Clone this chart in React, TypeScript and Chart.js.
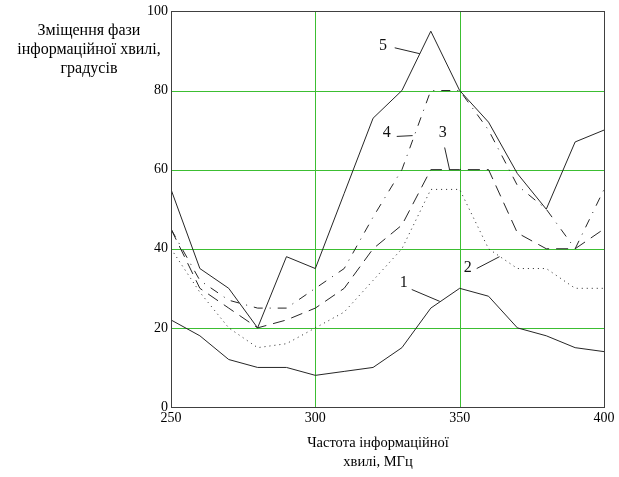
import React, { useEffect, useRef } from "react";
import { Chart, registerables } from "chart.js";

Chart.register(...registerables);

// Frequency of the information wave, MHz
const frequencies = [250, 260, 270, 280, 290, 300, 310, 320, 330, 340, 350, 360, 370, 380, 390, 400];

// Phase shift of the information wave, degrees (curves 1..5)
const curve1 = [22, 18, 12, 10, 10, 8, 9, 10, 15, 25, 30, 28, 20, 18, 15, 14];
const curve2 = [40, 29, 20, 15, 16, 20, 24, 32, 40, 55, 55, 40, 35, 35, 30, 30];
const curve3 = [45, 30, 25, 20, 22, 25, 30, 40, 46, 60, 60, 60, 44, 40, 40, 45];
const curve4 = [45, 32, 27, 25, 25, 30, 35, 48, 60, 80, 80, 70, 56, 50, 40, 55];
const curve5 = [55, 35, 30, 20, 38, 35, 54, 73, 80, 95, 80, 72, 59, 50, 67, 70];

const xTicks = [250, 300, 350, 400];
const yTicks = [0, 20, 40, 60, 80, 100];
// inner grid lines
const xGrid = [300, 350];
const yGrid = [20, 40, 60, 80];

const yTitleLines = ["Зміщення фази", "інформаційної хвилі,", "градусів"];
const xTitleLines = ["Частота інформаційної", "хвилі, МГц"];

// Curve number callouts: text position and leader line, in data units
const curveLabels = [
  { text: "1", at: [330.6, 31.5], from: [333.4, 29.7], to: [343.1, 26.7] },
  { text: "2", at: [352.8, 35.3], from: [355.9, 35.0], to: [363.8, 38.0] },
  { text: "3", at: [344.1, 69.3], from: [344.8, 65.6], to: [346.5, 60.0] },
  { text: "4", at: [324.7, 69.3], from: [328.2, 68.4], to: [333.7, 68.6] },
  { text: "5", at: [323.4, 91.3], from: [327.5, 90.8], to: [336.2, 89.3] },
];

const SERIF = "'Liberation Serif', 'Times New Roman', serif";
const GRID_GREEN = "rgb(60, 190, 50)";
const LINE_COLOR = "#262626";

const series = [
  { values: curve1, dash: [] as number[] },
  { values: curve2, dash: [1, 4] },
  { values: curve3, dash: [12, 7] },
  { values: curve4, dash: [9, 7, 1, 7] },
  { values: curve5, dash: [] as number[] },
];

const greenGrid = {
  id: "greenGrid",
  beforeDatasetsDraw(chart: any) {
    const { ctx, chartArea, scales } = chart;
    ctx.save();
    ctx.strokeStyle = GRID_GREEN;
    ctx.lineWidth = 1;
    ctx.beginPath();
    for (const v of xGrid) {
      const x = Math.round(scales.x.getPixelForValue(v)) + 0.5;
      ctx.moveTo(x, chartArea.top);
      ctx.lineTo(x, chartArea.bottom);
    }
    for (const v of yGrid) {
      const y = Math.round(scales.y.getPixelForValue(v)) + 0.5;
      ctx.moveTo(chartArea.left, y);
      ctx.lineTo(chartArea.right, y);
    }
    ctx.stroke();
    ctx.restore();
  },
};

const annotations = {
  id: "annotations",
  afterDraw(chart: any) {
    const { ctx, chartArea, scales } = chart;
    const xs = scales.x;
    const ys = scales.y;
    ctx.save();

    // frame around the plot
    ctx.strokeStyle = "#404040";
    ctx.lineWidth = 1;
    ctx.strokeRect(
      Math.round(chartArea.left) + 0.5,
      Math.round(chartArea.top) + 0.5,
      Math.round(chartArea.right - chartArea.left),
      Math.round(chartArea.bottom - chartArea.top)
    );

    // curve numbers with leader lines
    ctx.fillStyle = "#111";
    ctx.strokeStyle = LINE_COLOR;
    ctx.font = `16px ${SERIF}`;
    ctx.textAlign = "center";
    ctx.textBaseline = "middle";
    for (const l of curveLabels) {
      ctx.fillText(l.text, xs.getPixelForValue(l.at[0]), ys.getPixelForValue(l.at[1]));
      ctx.beginPath();
      ctx.moveTo(xs.getPixelForValue(l.from[0]), ys.getPixelForValue(l.from[1]));
      ctx.lineTo(xs.getPixelForValue(l.to[0]), ys.getPixelForValue(l.to[1]));
      ctx.stroke();
    }

    // axis titles
    ctx.fillStyle = "#000";
    ctx.font = `16px ${SERIF}`;
    yTitleLines.forEach((t, i) => ctx.fillText(t, 89, 31 + i * 19));
    ctx.font = `14.5px ${SERIF}`;
    xTitleLines.forEach((t, i) => ctx.fillText(t, 378, 443 + i * 19));
    ctx.restore();
  },
};

export default function App() {
  const canvasRef = useRef<HTMLCanvasElement>(null);

  useEffect(() => {
    const canvas = canvasRef.current;
    if (!canvas) return;
    const chart = new Chart(canvas, {
      type: "line",
      data: {
        datasets: series.map((s, i) => ({
          label: String(i + 1),
          data: frequencies.map((f, j) => ({ x: f, y: s.values[j] })),
          borderColor: LINE_COLOR,
          borderWidth: 1,
          borderDash: s.dash,
          pointRadius: 0,
          tension: 0,
          fill: false,
        })),
      },
      options: {
        responsive: false,
        animation: false,
        devicePixelRatio: 1,
        layout: { padding: { left: 0, top: 10, right: 15, bottom: 0 } },
        plugins: { legend: { display: false }, tooltip: { enabled: false } },
        scales: {
          x: {
            type: "linear",
            min: 250,
            max: 400,
            afterBuildTicks: (s: any) => {
              s.ticks = xTicks.map((v) => ({ value: v }));
            },
            afterFit: (s: any) => {
              s.height = 70;
            },
            ticks: {
              color: "#000",
              font: { family: SERIF, size: 14 },
              padding: 3,
              maxRotation: 0,
              autoSkip: false,
            },
            grid: { display: false, drawTicks: false },
            border: { display: false },
          },
          y: {
            min: 0,
            max: 100,
            afterBuildTicks: (s: any) => {
              s.ticks = yTicks.map((v) => ({ value: v }));
            },
            afterFit: (s: any) => {
              s.width = 171;
            },
            ticks: {
              color: "#000",
              font: { family: SERIF, size: 14 },
              padding: 3,
            },
            grid: { display: false, drawTicks: false },
            border: { display: false },
          },
        },
      },
      plugins: [greenGrid, annotations],
    });
    return () => chart.destroy();
  }, []);

  return (
    <div style={{ position: "fixed", left: 0, top: 0, width: 619, height: 477, background: "#fff" }}>
      <canvas ref={canvasRef} width={619} height={477} />
    </div>
  );
}
